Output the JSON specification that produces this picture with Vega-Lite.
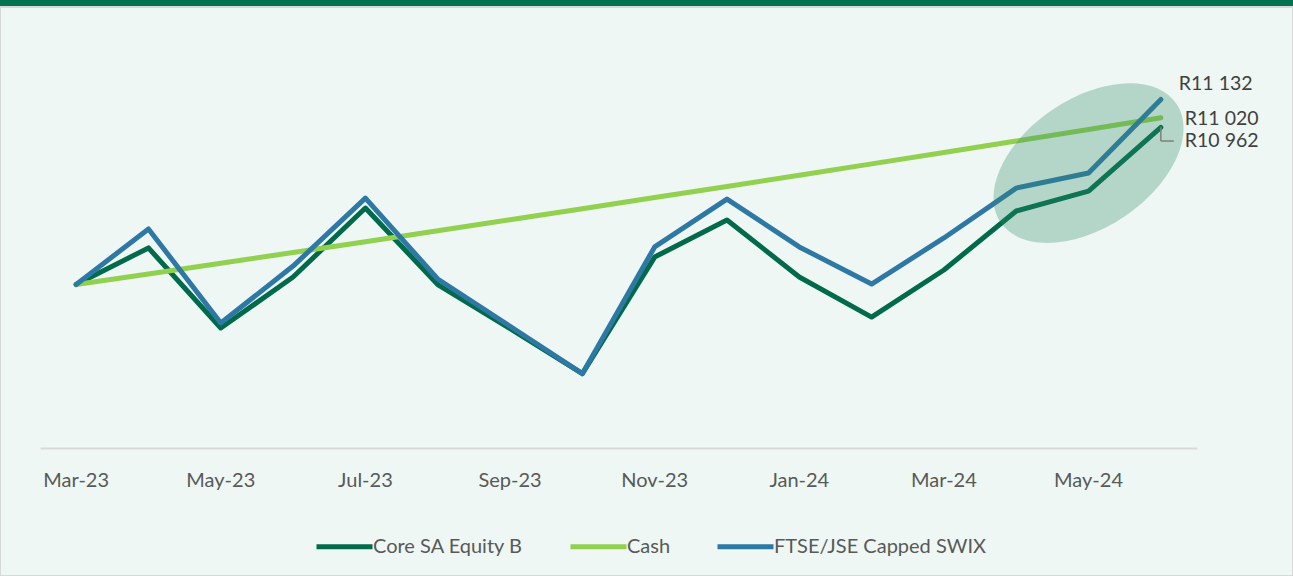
{
  "$schema": "https://vega.github.io/schema/vega-lite/v6.json",
  "width": 1293,
  "height": 569,
  "autosize": {"type": "none"},
  "padding": {"top": 7, "left": 0, "right": 0, "bottom": 0},
  "background": "#00734f",
  "config": {
    "view": {"fill": "#eef7f3", "stroke": "#d9d9d9", "strokeWidth": 2},
    "font": "Lato"
  },
  "datasets": {
    "series": [
      {"month": "Mar-23", "series": "Core SA Equity B", "value": 10000},
      {"month": "Apr-23", "series": "Core SA Equity B", "value": 10224},
      {"month": "May-23", "series": "Core SA Equity B", "value": 9734},
      {"month": "Jun-23", "series": "Core SA Equity B", "value": 10046},
      {"month": "Jul-23", "series": "Core SA Equity B", "value": 10468},
      {"month": "Aug-23", "series": "Core SA Equity B", "value": 10000},
      {"month": "Sep-23", "series": "Core SA Equity B", "value": 9730},
      {"month": "Oct-23", "series": "Core SA Equity B", "value": 9455},
      {"month": "Nov-23", "series": "Core SA Equity B", "value": 10168},
      {"month": "Dec-23", "series": "Core SA Equity B", "value": 10395},
      {"month": "Jan-24", "series": "Core SA Equity B", "value": 10046},
      {"month": "Feb-24", "series": "Core SA Equity B", "value": 9801},
      {"month": "Mar-24", "series": "Core SA Equity B", "value": 10089},
      {"month": "Apr-24", "series": "Core SA Equity B", "value": 10450},
      {"month": "May-24", "series": "Core SA Equity B", "value": 10572},
      {"month": "Jun-24", "series": "Core SA Equity B", "value": 10962},
      {"month": "Mar-23", "series": "Cash", "value": 10000},
      {"month": "Apr-23", "series": "Cash", "value": 10065},
      {"month": "May-23", "series": "Cash", "value": 10130},
      {"month": "Jun-23", "series": "Cash", "value": 10196},
      {"month": "Jul-23", "series": "Cash", "value": 10262},
      {"month": "Aug-23", "series": "Cash", "value": 10329},
      {"month": "Sep-23", "series": "Cash", "value": 10396},
      {"month": "Oct-23", "series": "Cash", "value": 10464},
      {"month": "Nov-23", "series": "Cash", "value": 10532},
      {"month": "Dec-23", "series": "Cash", "value": 10600},
      {"month": "Jan-24", "series": "Cash", "value": 10669},
      {"month": "Feb-24", "series": "Cash", "value": 10738},
      {"month": "Mar-24", "series": "Cash", "value": 10808},
      {"month": "Apr-24", "series": "Cash", "value": 10878},
      {"month": "May-24", "series": "Cash", "value": 10949},
      {"month": "Jun-24", "series": "Cash", "value": 11020},
      {"month": "Mar-23", "series": "FTSE/JSE Capped SWIX", "value": 10000},
      {"month": "Apr-23", "series": "FTSE/JSE Capped SWIX", "value": 10340},
      {"month": "May-23", "series": "FTSE/JSE Capped SWIX", "value": 9765},
      {"month": "Jun-23", "series": "FTSE/JSE Capped SWIX", "value": 10113},
      {"month": "Jul-23", "series": "FTSE/JSE Capped SWIX", "value": 10529},
      {"month": "Aug-23", "series": "FTSE/JSE Capped SWIX", "value": 10034},
      {"month": "Sep-23", "series": "FTSE/JSE Capped SWIX", "value": 9745},
      {"month": "Oct-23", "series": "FTSE/JSE Capped SWIX", "value": 9455},
      {"month": "Nov-23", "series": "FTSE/JSE Capped SWIX", "value": 10230},
      {"month": "Dec-23", "series": "FTSE/JSE Capped SWIX", "value": 10523},
      {"month": "Jan-24", "series": "FTSE/JSE Capped SWIX", "value": 10230},
      {"month": "Feb-24", "series": "FTSE/JSE Capped SWIX", "value": 10003},
      {"month": "Mar-24", "series": "FTSE/JSE Capped SWIX", "value": 10285},
      {"month": "Apr-24", "series": "FTSE/JSE Capped SWIX", "value": 10590},
      {"month": "May-24", "series": "FTSE/JSE Capped SWIX", "value": 10682},
      {"month": "Jun-24", "series": "FTSE/JSE Capped SWIX", "value": 11132}
    ],
    "labels": [
      {"month": "Jun-24", "series": "FTSE/JSE Capped SWIX", "value": 11132, "label": "R11 132"},
      {"month": "Jun-24", "series": "Cash", "value": 11020, "label": "R11 020"},
      {"month": "Jun-24", "series": "Core SA Equity B", "value": 10962, "label": "R10 962"}
    ],
    "highlight": [
      {"month": "May-24", "value": 10743}
    ],
    "leader": [
      {"month": "Jun-24", "from": 10962, "to": 10878}
    ]
  },
  "layer": [
    {
      "data": {"name": "series"},
      "mark": {"type": "line", "strokeWidth": 5, "strokeCap": "round", "strokeJoin": "round"},
      "encoding": {
        "x": {
          "field": "month",
          "type": "nominal",
          "sort": null,
          "scale": {
            "type": "band",
            "domain": ["Mar-23","Apr-23","May-23","Jun-23","Jul-23","Aug-23","Sep-23","Oct-23","Nov-23","Dec-23","Jan-24","Feb-24","Mar-24","Apr-24","May-24","Jun-24"],
            "range": [40, 1197],
            "paddingInner": 0,
            "paddingOuter": 0
          },
          "axis": {
            "title": null,
            "values": ["Mar-23","May-23","Jul-23","Sep-23","Nov-23","Jan-24","Mar-24","May-24"],
            "offset": -128,
            "ticks": false,
            "tickSize": 0,
            "grid": false,
            "labelAngle": 0,
            "labelFont": "Lato",
            "labelFontSize": 20,
            "labelColor": "#595959",
            "labelPadding": 22,
            "domainColor": "#d9d9d9",
            "domainWidth": 2
          }
        },
        "y": {
          "field": "value",
          "type": "quantitative",
          "scale": {"domain": [9000, 11600], "range": [441, 16], "zero": false, "nice": false},
          "axis": null
        },
        "color": {
          "field": "series",
          "type": "nominal",
          "scale": {
            "domain": ["Core SA Equity B", "Cash", "FTSE/JSE Capped SWIX"],
            "range": ["#006a4a", "#92d050", "#2e78a6"]
          },
          "legend": {
            "orient": "none",
            "legendX": 314,
            "legendY": 509,
            "direction": "horizontal",
            "title": null,
            "symbolType": "stroke",
            "symbolSize": 3136,
            "symbolStrokeWidth": 5,
            "labelFont": "Lato",
            "labelFontSize": 20,
            "labelColor": "#595959",
            "labelOffset": -2,
            "labelLimit": 0,
            "columnPadding": 36,
            "padding": 0
          }
        }
      }
    },
    {
      "data": {"name": "highlight"},
      "mark": {
        "type": "point",
        "shape": "M 1 0 C 1 0.3358 0.5523 0.608 0 0.608 C -0.5523 0.608 -1 0.3358 -1 0 C -1 -0.3358 -0.5523 -0.608 0 -0.608 C 0.5523 -0.608 1 -0.3358 1 0 Z",
        "size": 44944,
        "angle": 326,
        "filled": true,
        "fill": "#2e8b6a",
        "opacity": 0.3,
        "strokeWidth": 0
      },
      "encoding": {
        "x": {"field": "month", "type": "nominal"},
        "y": {"field": "value", "type": "quantitative"}
      }
    },
    {
      "data": {"name": "leader"},
      "mark": {"type": "rule", "color": "#7f7f7f", "strokeWidth": 1.5},
      "encoding": {
        "x": {"field": "month", "type": "nominal"},
        "y": {"field": "from", "type": "quantitative"},
        "y2": {"field": "to"}
      }
    },
    {
      "data": {"name": "leader"},
      "mark": {"type": "rule", "color": "#7f7f7f", "strokeWidth": 1.5, "x2Offset": 13},
      "encoding": {
        "x": {"field": "month", "type": "nominal"},
        "x2": {"field": "month"},
        "y": {"field": "to", "type": "quantitative"}
      }
    },
    {
      "data": {"name": "labels"},
      "transform": [{"filter": "datum.series === 'FTSE/JSE Capped SWIX'"}],
      "mark": {"type": "text", "align": "left", "baseline": "middle", "dx": 18, "dy": -16, "font": "Lato", "fontSize": 19.5, "color": "#404040"},
      "encoding": {
        "x": {"field": "month", "type": "nominal"},
        "y": {"field": "value", "type": "quantitative"},
        "text": {"field": "label"}
      }
    },
    {
      "data": {"name": "labels"},
      "transform": [{"filter": "datum.series === 'Cash'"}],
      "mark": {"type": "text", "align": "left", "baseline": "middle", "dx": 24, "dy": 1, "font": "Lato", "fontSize": 19.5, "color": "#404040"},
      "encoding": {
        "x": {"field": "month", "type": "nominal"},
        "y": {"field": "value", "type": "quantitative"},
        "text": {"field": "label"}
      }
    },
    {
      "data": {"name": "labels"},
      "transform": [{"filter": "datum.series === 'Core SA Equity B'"}],
      "mark": {"type": "text", "align": "left", "baseline": "middle", "dx": 24, "dy": 14, "font": "Lato", "fontSize": 19.5, "color": "#404040"},
      "encoding": {
        "x": {"field": "month", "type": "nominal"},
        "y": {"field": "value", "type": "quantitative"},
        "text": {"field": "label"}
      }
    }
  ]
}
